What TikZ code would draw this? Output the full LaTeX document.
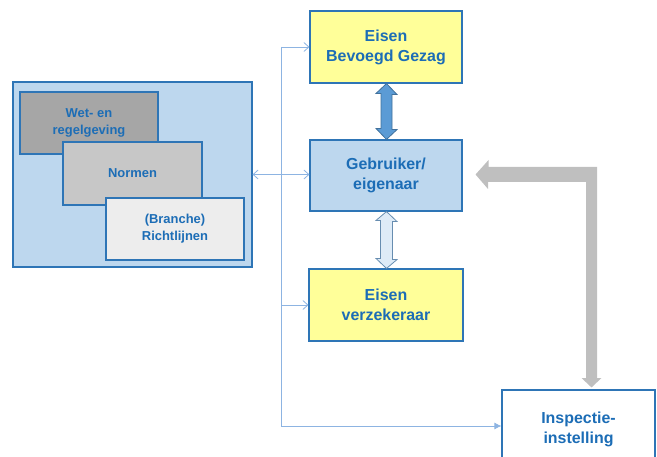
\documentclass[tikz,border=0pt]{standalone}
\usepackage{fontspec}
\setmainfont{Liberation Sans}
\usetikzlibrary{arrows.meta,calc}
\definecolor{txtblue}{HTML}{1C6DB6}
\definecolor{bordblue}{HTML}{2E75B6}
\definecolor{lightblue}{HTML}{BDD7EE}
\definecolor{paleyellow}{HTML}{FFFF99}
\definecolor{thinblue}{HTML}{8DB4E2}
\definecolor{midblue}{HTML}{5B9BD5}
\definecolor{darkblueb}{HTML}{41719C}
\definecolor{palearrow}{HTML}{DEEBF7}
\definecolor{grayarrow}{HTML}{BFBFBF}
\begin{document}
\begin{tikzpicture}[x=1bp,y=-1bp,
  box/.style={draw=bordblue,line width=1.1bp,inner sep=0pt,align=center,
    text=txtblue,font=\bfseries\fontsize{16}{20}\selectfont},
  smallbox/.style={box,font=\bfseries\fontsize{13}{17}\selectfont},
  thinline/.style={draw=thinblue,line width=0.8bp},
  openhead/.style={-{Straight Barb[length=5bp,width=9bp]}}]
\useasboundingbox (0,0) rectangle (657,457);
\begin{scope}
\clip (0,0) rectangle (657,457);
% left group
\node[box,fill=lightblue,minimum width=239bp,minimum height=185bp] (law) at (132.5,174.5) {};
\node[smallbox,fill=black!35,minimum width=138bp,minimum height=62bp] (wet) at (89,123) {Wet- en\\regelgeving};
\node[smallbox,fill=black!22,minimum width=139bp,minimum height=63bp] (norm) at (132.5,173.5) {Normen};
\node[smallbox,fill=black!7,minimum width=138bp,minimum height=62bp] (richt) at (175,229) {(Branche)\\Richtlijnen};
% right boxes
\node[box,fill=paleyellow,minimum width=152bp,minimum height=72bp] (eb) at (386,47) {Eisen\\Bevoegd Gezag};
\node[box,fill=lightblue,minimum width=152bp,minimum height=71bp] (geb) at (386,175.5) {Gebruiker/\\eigenaar};
\node[box,fill=paleyellow,minimum width=154bp,minimum height=72bp] (ver) at (386,305) {Eisen\\verzekeraar};
\node[box,fill=white,minimum width=153bp,minimum height=78bp] (insp) at (578.5,429) {Inspectie-\\instelling};
\end{scope}
% thick double arrow
\fill[midblue,draw=darkblueb,line width=0.8bp]
  ($(eb.south)+(0.5,0)$) -- ++(10.5,11) -- ++(-5,0) -- ++(0,35) -- ++(5,0)
  -- ($(geb.north)+(0.5,0)$) -- ++(-10.5,-11) -- ++(5,0) -- ++(0,-35) -- ++(-5,0) -- cycle;
% light double arrow
\fill[palearrow,draw=darkblueb!80,line width=0.8bp]
  ($(geb.south)+(0.5,0)$) -- ++(10.5,10) -- ++(-4.5,0) -- ++(0,38) -- ++(4.5,0)
  -- ($(ver.north)+(0.5,0)$) -- ++(-10.5,-10) -- ++(4.5,0) -- ++(0,-38) -- ++(-4.5,0) -- cycle;
% gray L arrow
\fill[grayarrow] ($(geb.east)+(13,-1)$) coordinate (gtip) -- ++(13,-14.5) -- ++(0,7) -- (597,167) -- (597,378)
  -- (601.5,378) -- ($(insp.north)+(13,-2)$) -- (581.5,378) -- (586,378) -- (586,182) -- (488,182) -- (488,189) -- cycle;
% thin connectors
\coordinate (j1) at (281,47);
\coordinate (j2) at (281,305);
\coordinate (j3) at (281,426);
\draw[thinline] (j1) -- (j3);
\draw[thinline,openhead] (j1) -- (eb.west |- j1);
\draw[thinline,openhead] (j2) -- (ver.west |- j2);
\draw[thinline,-{Latex[length=7bp,width=7bp]}] (j3) -- (insp.west |- j3);
\draw[thinline,{Straight Barb[length=5bp,width=9bp]}-{Straight Barb[length=5bp,width=9bp]}] ($(law.east)+(0,0)$) -- (geb.west |- law.east);
\end{tikzpicture}
\end{document}
